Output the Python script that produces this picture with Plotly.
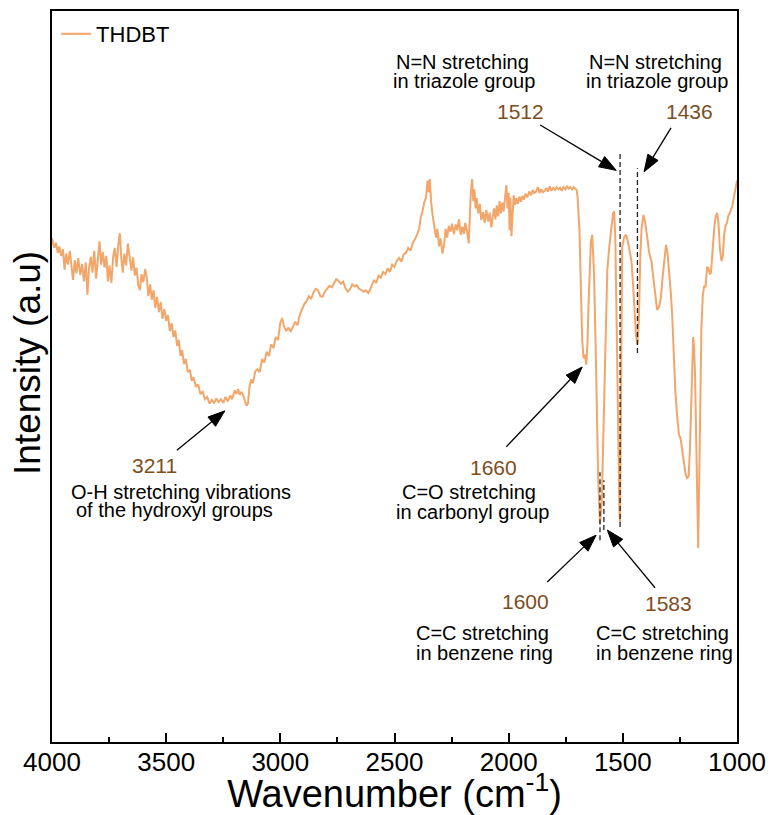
import math
import plotly.graph_objects as go

# FTIR spectrum of THDBT (wavenumber in cm-1, intensity in arbitrary units)
wavenumber = [
    4000, 3990, 3982, 3975, 3968, 3960, 3952, 3945, 3938, 3930, 3922, 3915, 3908, 3900,
    3893, 3885, 3876, 3868, 3860, 3852, 3845, 3838, 3830, 3823, 3815, 3807, 3800, 3792,
    3785, 3777, 3770, 3762, 3755, 3748, 3740, 3732, 3725, 3717, 3710, 3703, 3696, 3690,
    3683, 3675, 3668, 3660, 3652, 3645, 3637, 3630, 3622, 3615, 3608, 3600, 3592, 3585,
    3578, 3570, 3563, 3555, 3548, 3540, 3532, 3524, 3516, 3508, 3500, 3492, 3484, 3476,
    3468, 3460, 3452, 3445, 3437, 3430, 3422, 3414, 3405, 3396, 3388, 3380, 3370, 3360,
    3350, 3340, 3330, 3320, 3310, 3300, 3290, 3280, 3270, 3260, 3250, 3240, 3230, 3220,
    3211, 3200, 3192, 3185, 3178, 3170, 3162, 3155, 3148, 3142, 3135, 3128, 3120, 3110,
    3100, 3090, 3080, 3070, 3060, 3050, 3040, 3030, 3020, 3010, 3000, 2992, 2985, 2975,
    2965, 2955, 2945, 2935, 2925, 2915, 2905, 2895, 2885, 2875, 2865, 2855, 2845, 2835,
    2825, 2815, 2805, 2795, 2785, 2775, 2765, 2755, 2745, 2735, 2725, 2715, 2705, 2695,
    2685, 2675, 2665, 2655, 2645, 2635, 2625, 2615, 2605, 2600, 2590, 2580, 2570, 2560,
    2550, 2540, 2530, 2520, 2510, 2500, 2490, 2480, 2470, 2460, 2450, 2440, 2430, 2420,
    2410, 2400, 2392, 2385, 2378, 2370, 2362, 2355, 2350, 2345, 2340, 2333, 2325, 2318,
    2312, 2305, 2298, 2290, 2283, 2276, 2270, 2262, 2255, 2248, 2240, 2232, 2225, 2218,
    2210, 2203, 2196, 2190, 2182, 2175, 2170, 2166, 2160, 2155, 2150, 2145, 2140, 2133,
    2126, 2120, 2112, 2105, 2098, 2090, 2083, 2076, 2070, 2064, 2058, 2052, 2046, 2040,
    2034, 2028, 2022, 2016, 2010, 2005, 2000, 1996, 1992, 1988, 1983, 1978, 1972, 1966,
    1960, 1953, 1946, 1940, 1933, 1926, 1918, 1910, 1902, 1895, 1888, 1880, 1872, 1865,
    1858, 1850, 1842, 1835, 1828, 1820, 1813, 1805, 1797, 1790, 1782, 1775, 1768, 1760,
    1752, 1745, 1738, 1730, 1722, 1715, 1708, 1702, 1698, 1694, 1690, 1686, 1682, 1678,
    1672, 1666, 1660, 1655, 1650, 1645, 1640, 1634, 1626, 1617, 1608, 1600, 1592, 1583,
    1575, 1568, 1560, 1550, 1543, 1538, 1533, 1527, 1520, 1515, 1512, 1508, 1503, 1495,
    1486, 1478, 1470, 1462, 1455, 1448, 1442, 1436, 1430, 1424, 1418, 1410, 1403, 1395,
    1385, 1375, 1365, 1357, 1350, 1342, 1334, 1326, 1318, 1311, 1304, 1296, 1290, 1284,
    1277, 1270, 1262, 1254, 1247, 1241, 1234, 1226, 1219, 1212, 1206, 1200, 1196, 1192,
    1188, 1184, 1179, 1175, 1170, 1166, 1161, 1156, 1150, 1144, 1138, 1131, 1125, 1119,
    1114, 1108, 1100, 1094, 1087, 1081, 1075, 1068, 1062, 1056, 1050, 1044, 1038, 1032,
    1026, 1020, 1013, 1006, 1000,
]
intensity = [
    68.9, 67.6, 68.3, 66.9, 67.8, 66.5, 67.4, 64.6, 66.8, 65.3, 67.2, 64.8, 63.2, 65.9,
    64.1, 66.2, 63.9, 65.4, 63.0, 65.6, 61.2, 64.8, 66.4, 64.2, 67.2, 63.4, 66.0, 68.5,
    65.3, 67.0, 64.9, 66.5, 63.0, 65.2, 62.8, 66.4, 67.6, 65.0, 67.9, 69.6, 66.0, 64.2,
    66.8, 65.2, 68.2, 66.0, 64.5, 66.3, 63.8, 64.9, 62.5, 61.8, 64.0, 62.9, 64.7, 63.5,
    61.0, 62.6, 60.5, 61.8, 59.4, 60.9, 58.8, 60.2, 57.9, 59.2, 57.6, 58.4, 56.2, 57.3,
    55.4, 56.3, 54.2, 55.0, 52.8, 53.6, 51.7, 52.4, 50.6, 50.9, 49.4, 49.9, 48.6, 48.9,
    47.6, 47.9, 46.9, 47.2, 46.3, 46.8, 46.4, 47.0, 46.5, 46.9, 46.4, 47.2, 46.6, 47.4,
    46.9, 48.1, 47.6, 48.3, 47.5, 47.9, 47.4, 46.6, 46.0, 46.3, 48.6, 49.6, 49.1, 50.7,
    51.0, 50.6, 52.4, 51.9, 53.4, 52.8, 54.4, 53.9, 55.4, 55.0, 57.4, 58.0, 56.9, 56.2,
    56.7, 56.1, 56.9, 57.5, 57.0, 58.4, 59.2, 59.9, 60.3, 61.0, 60.6, 61.5, 62.0, 61.8,
    61.0, 60.9, 61.6, 62.0, 62.4, 62.2, 62.8, 63.3, 63.1, 62.7, 63.0, 62.1, 61.6, 61.9,
    62.6, 62.3, 62.5, 62.0, 61.8, 61.6, 61.8, 61.4, 62.0, 62.4, 63.2, 62.8, 63.8, 63.5,
    64.3, 64.0, 64.8, 64.3, 65.3, 65.0, 65.8, 66.2, 65.7, 66.7, 66.9, 67.6, 67.2, 68.3,
    68.8, 69.5, 70.2, 71.8, 72.5, 73.8, 74.5, 76.8, 75.2, 77.0, 74.0, 72.0, 70.5, 69.0,
    70.2, 67.8, 68.9, 66.8, 68.0, 70.2, 69.0, 70.6, 69.8, 70.9, 69.5, 70.8, 70.0, 71.5,
    69.4, 70.5, 69.5, 71.0, 69.8, 68.2, 72.0, 75.0, 77.0, 74.0, 75.6, 73.0, 74.4, 72.3,
    73.6, 71.4, 72.5, 71.0, 72.8, 71.2, 72.4, 70.4, 71.8, 73.0, 71.5, 73.4, 71.9, 74.0,
    72.3, 73.8, 72.6, 75.0, 76.2, 73.0, 75.1, 70.0, 74.5, 69.2, 72.0, 74.8, 73.5, 74.4,
    73.6, 74.6, 73.9, 74.7, 74.2, 75.0, 74.5, 75.3, 74.8, 75.5, 75.1, 75.3, 75.9, 75.1,
    75.6, 75.2, 75.4, 75.8, 75.3, 76.0, 75.4, 75.8, 75.5, 75.9, 75.6, 75.8, 75.4, 75.9,
    75.6, 76.0, 75.7, 75.9, 75.6, 75.9, 75.7, 75.5, 74.5, 72.5, 70.0, 65.0, 60.0, 55.0,
    52.5, 53.0, 51.6, 54.5, 60.0, 65.5, 68.5, 69.4, 64.0, 51.0, 36.0, 29.8, 33.0, 45.0,
    58.0, 64.6, 67.5, 70.5, 72.3, 72.6, 69.0, 57.0, 40.0, 31.5, 30.0, 45.0, 67.7, 69.0,
    69.4, 68.5, 67.2, 65.8, 62.5, 58.5, 55.5, 54.4, 57.5, 66.0, 70.3, 72.1, 71.2, 69.5,
    67.0, 65.8, 63.2, 60.8, 59.1, 59.5, 60.6, 63.5, 66.5, 68.0, 66.8, 64.0, 61.5, 58.5,
    53.0, 48.0, 44.5, 42.0, 41.5, 40.2, 38.5, 36.8, 36.1, 36.3, 40.0, 47.0, 52.5, 55.4,
    54.0, 50.5, 42.0, 33.0, 26.5, 35.0, 47.0, 56.5, 61.0, 62.4, 62.2, 65.0, 64.8, 64.0,
    64.2, 67.0, 70.2, 71.8, 72.4, 71.0, 67.5, 65.8, 66.5, 69.5, 70.6, 71.0, 72.0, 72.3,
    72.8, 73.4, 74.6, 76.0, 76.8,
]

x_ticks = [4000, 3500, 3000, 2500, 2000, 1500, 1000]

# Band assignments: value, description lines
bands = [
    (3211, ["O-H stretching vibrations", "of the hydroxyl groups"]),
    (1660, ["C=O stretching", "in carbonyl group"]),
    (1600, ["C=C stretching", "in benzene ring"]),
    (1583, ["C=C stretching", "in benzene ring"]),
    (1512, ["N=N stretching", "in triazole group"]),
    (1436, ["N=N stretching", "in triazole group"]),
]

LINE_COLOR = "#F2A66A"
LABEL_COLOR = "#7D4E22"
FONT = "Arial, Liberation Sans, Helvetica, sans-serif"

X0, X1 = 4000, 1000
Y0, Y1 = 0, 100
W, H = 770, 815
ML, MR, MT, MB = 52, 33, 11, 73
PW, PH = W - ML - MR, H - MT - MB


def to_px(x, y):
    return ((X0 - x) / (X0 - X1) * PW, (y - Y0) / (Y1 - Y0) * PH)


def to_data(px, py):
    return (X0 - px / PW * (X0 - X1), Y0 + py / PH * (Y1 - Y0))


fig = go.Figure()
fig.add_trace(go.Scatter(
    x=wavenumber, y=intensity, mode="lines", name="THDBT",
    line=dict(color=LINE_COLOR, width=2),
))

shapes = []
annotations = []


def add_arrow(tail, tip, head_len=17, half_w=6):
    tx, ty = to_px(*tail)
    px, py = to_px(*tip)
    dx, dy = px - tx, py - ty
    n = math.hypot(dx, dy)
    dx, dy = dx / n, dy / n
    bx, by = px - dx * head_len, py - dy * head_len
    lx, ly = bx - dy * half_w, by + dx * half_w
    rx, ry = bx + dy * half_w, by - dx * half_w
    b = to_data(bx, by)
    l = to_data(lx, ly)
    r = to_data(rx, ry)
    shapes.append(dict(type="line", xref="x", yref="y", x0=tail[0], y0=tail[1],
                       x1=b[0], y1=b[1], line=dict(color="black", width=1.3)))
    shapes.append(dict(type="path", xref="x", yref="y",
                       path=f"M{tip[0]},{tip[1]} L{l[0]},{l[1]} L{r[0]},{r[1]} Z",
                       fillcolor="black", line=dict(color="black", width=1)))


def add_text(x, y, text, color="black", size=20):
    annotations.append(dict(x=x, y=y, xref="x", yref="y", text=text, showarrow=False,
                            font=dict(family=FONT, size=size, color=color),
                            xanchor="center", yanchor="middle"))


# label layout per band: number position, two description lines, arrow tail/tip
layout_info = {
    3211: dict(num=(3550, 37.8), lines=[(3436, 34.2), (3462, 31.7)],
               tail=(3453, 39.9), tip=(3243, 45.3)),
    1660: dict(num=(2067, 37.6), lines=[(2172, 34.2), (2159, 31.5)],
               tail=(2010, 40.4), tip=(1678, 51.3)),
    1600: dict(num=(1927, 19.2), lines=[(2115, 14.9), (2106, 12.2)],
               tail=(1831, 21.9), tip=(1617, 28.3)),
    1583: dict(num=(1302, 18.9), lines=[(1328, 14.9), (1319, 12.2)],
               tail=(1359, 21.1), tip=(1568, 29.0)),
    1512: dict(num=(1949, 86.3), lines=[(2203, 93.0), (2194, 90.4)],
               tail=(1862, 84.4), tip=(1529, 78.2)),
    1436: dict(num=(1206, 86.3), lines=[(1359, 93.0), (1350, 90.4)],
               tail=(1289, 84.0), tip=(1407, 78.0)),
}

for value, desc in bands:
    info = layout_info[value]
    add_text(*info["num"], str(value), color=LABEL_COLOR, size=21)
    for (lx, ly), line in zip(info["lines"], desc):
        add_text(lx, ly, line)
    add_arrow(info["tail"], info["tip"])

# dashed guides marking the band positions
guides = [(1600, 27.6, 36.9), (1583, 29.0, 35.8), (1512, 29.4, 80.7), (1436, 53.2, 78.5)]
for gx, g0, g1 in guides:
    shapes.append(dict(type="line", xref="x", yref="y", x0=gx, x1=gx, y0=g0, y1=g1,
                       line=dict(color="#222222", width=1.3, dash="5px,3px")))

# vertical axis title, placed as rotated text beside the frame
annotations.append(dict(
    x=-25 / PW, y=(742 - 363) / PH, xref="paper", yref="paper",
    text="Intensity (a.u)", textangle=-90, showarrow=False,
    font=dict(family=FONT, size=37, color="black"),
    xanchor="center", yanchor="middle",
))

fig.update_layout(
    width=W, height=H,
    margin=dict(l=ML, r=MR, t=MT, b=MB, autoexpand=False),
    paper_bgcolor="white", plot_bgcolor="white",
    font=dict(family=FONT, color="black"),
    shapes=shapes, annotations=annotations,
    showlegend=True,
    legend=dict(x=0.006, y=1 - 2 / PH, xanchor="left", yanchor="top",
                bgcolor="rgba(0,0,0,0)",
                font=dict(family=FONT, size=22), itemwidth=30,
                tracegroupgap=0),
)
fig.update_xaxes(
    range=[X0, X1], tickvals=x_ticks, ticktext=[str(v) for v in x_ticks],
    ticks="inside", ticklen=9, tickwidth=1.5, tickcolor="black",
    minor=dict(ticks="inside", ticklen=5, tickwidth=1.5, tickcolor="black", dtick=250,
               tick0=1000),
    tickfont=dict(family=FONT, size=26), showgrid=False, zeroline=False,
    ticklabelstandoff=-4,
    showline=True, mirror=True, linecolor="black", linewidth=1.5,
    title=dict(text="Wavenumber (cm<sup>-1</sup>)", font=dict(family=FONT, size=38),
               standoff=0),
)
fig.update_yaxes(
    range=[Y0, Y1], showticklabels=False, ticks="", showgrid=False, zeroline=False,
    showline=True, mirror=True, linecolor="black", linewidth=1.5,
)

fig.write_html("out.html")
